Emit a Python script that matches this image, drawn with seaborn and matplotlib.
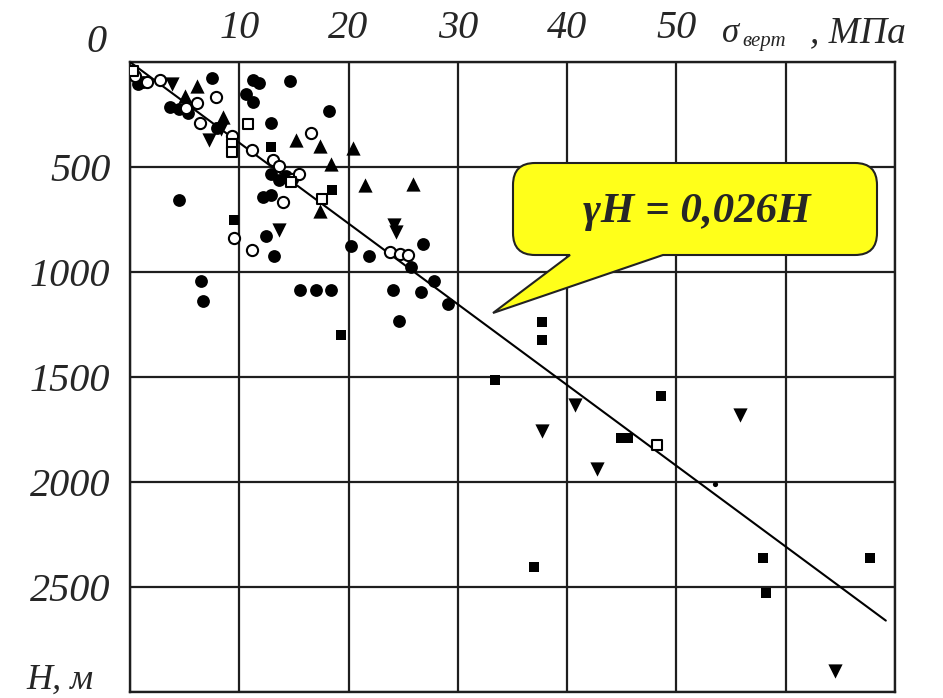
import numpy as np
import pandas as pd
import seaborn as sns
import matplotlib.pyplot as plt
from matplotlib.path import Path
from matplotlib.patches import PathPatch

# === Data (sigma_vert in MPa, depth H in m) ===
# filled circles
circ_x = [7.5, 11.3, 11.8, 14.6, 10.6, 11.3, 18.2, 12.9, 4.5, 12.4, 13.2, 20.2, 21.9,
          26.8, 25.7, 27.8, 29.1, 6.5, 6.7, 15.6, 17.0, 18.4, 24.1, 26.6, 24.6,
          12.9, 13.6, 14.3, 12.2, 12.9, 3.7, 4.5, 5.3, 8.0, 0.7, 1.2]
circ_y = [75, 85, 100, 90, 150, 190, 235, 290, 655, 830, 925, 875, 925,
          865, 975, 1045, 1150, 1045, 1140, 1085, 1085, 1085, 1085, 1095, 1235,
          535, 560, 545, 645, 635, 215, 225, 245, 312, 105, 95]

# tiny dot sitting on the line
dot_x = [53.5]
dot_y = [2010]

# filled triangles (up)
tri_up_x = [6.1, 15.2, 17.4, 20.4, 18.4, 21.5, 25.9, 17.4, 5.0, 8.5]
tri_up_y = [115, 370, 400, 410, 485, 585, 580, 710, 160, 260]

# filled triangles (down)
tri_dn_x = [3.8, 7.2, 13.6, 24.2, 24.3, 40.7, 37.7, 55.8, 42.7, 64.5, 8.3]
tri_dn_y = [105, 370, 800, 775, 810, 1632, 1755, 1680, 1940, 2900, 320]

# filled squares
sq_x = [12.9, 18.5, 9.5, 19.3, 37.7, 37.7, 33.4, 48.6, 44.9, 45.6, 37.0, 57.9, 58.2, 67.7]
sq_y = [405, 610, 750, 1300, 1240, 1325, 1515, 1590, 1790, 1790, 2405, 2360, 2530, 2360]

# open circles
ocirc_x = [0.5, 1.6, 2.7, 6.1, 7.9, 5.1, 6.4, 9.3, 11.2, 16.6, 13.1, 13.6, 14.8,
           15.5, 14.0, 9.5, 11.2, 23.8, 24.7, 25.4]
ocirc_y = [65, 95, 85, 195, 165, 220, 290, 350, 420, 340, 465, 495, 555,
           535, 665, 840, 895, 905, 915, 920]

# open squares
osq_x = [10.8, 9.3, 9.3, 17.6, 48.2, 0.3, 14.7]
osq_y = [295, 390, 427, 650, 1826, 45, 570]

# trend line gammaH = 0.026 H
coef = 0.026
line_H = np.array([0, 2660])
line_sigma = coef * line_H

x_ticks = [0, 10, 20, 30, 40, 50, 60, 70]
x_labels = ["", "10", "20", "30", "40", "50", "", ""]
y_ticks = [0, 500, 1000, 1500, 2000, 2500, 3000]
y_labels = ["", "500", "1000", "1500", "2000", "2500", ""]

sns.set_style("white")
plt.rcParams["font.family"] = ["Liberation Serif", "DejaVu Serif"]
plt.rcParams["font.style"] = "italic"

W, H = 943, 698
fig = plt.figure(figsize=(W / 100, H / 100), dpi=100)
ax = fig.add_axes([130 / W, 1 - 692 / H, (895 - 130) / W, (692 - 62) / H])

grid_col = "#1e1e1e"

sns.lineplot(x=line_sigma, y=line_H, color="black", lw=1.5, ax=ax, zorder=3)

sns.scatterplot(x=circ_x, y=circ_y, marker="o", s=85, color="black",
                edgecolor="black", linewidth=0, ax=ax, zorder=4)
sns.scatterplot(x=dot_x, y=dot_y, marker="o", s=14, color="black",
                edgecolor="black", linewidth=0, ax=ax, zorder=4)
sns.scatterplot(x=tri_up_x, y=tri_up_y, marker="^", s=105, color="black",
                edgecolor="black", linewidth=0, ax=ax, zorder=4)
sns.scatterplot(x=tri_dn_x, y=tri_dn_y, marker="v", s=105, color="black",
                edgecolor="black", linewidth=0, ax=ax, zorder=4)
sns.scatterplot(x=sq_x, y=sq_y, marker="s", s=58, color="black",
                edgecolor="black", linewidth=0, ax=ax, zorder=4)
sns.scatterplot(x=ocirc_x, y=ocirc_y, marker="o", s=65, facecolor="white",
                edgecolor="black", linewidth=1.5, ax=ax, zorder=5)
sns.scatterplot(x=osq_x, y=osq_y, marker="s", s=48, facecolor="white",
                edgecolor="black", linewidth=1.5, ax=ax, zorder=5)

ax.set_xlim(0, 70)
ax.set_ylim(3000, 0)
ax.xaxis.tick_top()
ax.set_xticks(x_ticks)
ax.set_xticklabels(x_labels, fontsize=29, fontstyle="italic")
ax.set_yticks(y_ticks)
ax.set_yticklabels(y_labels, fontsize=29, fontstyle="italic")
ax.tick_params(axis="x", length=0, pad=11)
ax.tick_params(axis="y", length=0, pad=14)
ax.grid(True, color=grid_col, lw=1.6)
ax.set_axisbelow(True)
for sp in ax.spines.values():
    sp.set_color(grid_col)
    sp.set_linewidth(1.7)
ax.set_xlabel("")
ax.set_ylabel("")

# corner zero and axis names
fig.text(97 / W, 1 - 43 / H, "0", fontsize=29, ha="center", va="center")
fig.text(60 / W, 1 - 680 / H, "H, м", fontsize=26, ha="center", va="center")
fig.text(722 / W, 1 - 42 / H, "σ", fontsize=25, ha="left", va="baseline")
fig.text(742 / W, 1 - 46 / H, "верт", fontsize=15, ha="left", va="baseline")
fig.text(810 / W, 1 - 42 / H, ", МПа", fontsize=27, ha="left", va="baseline")

# === Speech-bubble callout (pixel coords -> inches) ===
x0, y0, x1, y1, r = 513, 163, 877, 255, 22
tail_a, tail_b, tip = 570, 663, (493, 313)
verts = [(x0 + r, y0), (x1 - r, y0), (x1, y0), (x1, y0 + r), (x1, y1 - r), (x1, y1),
         (x1 - r, y1), (tail_b, y1), tip, (tail_a, y1), (x0 + r, y1), (x0, y1),
         (x0, y1 - r), (x0, y0 + r), (x0, y0), (x0 + r, y0), (x0 + r, y0)]
codes = [Path.MOVETO, Path.LINETO, Path.CURVE3, Path.CURVE3, Path.LINETO, Path.CURVE3,
         Path.CURVE3, Path.LINETO, Path.LINETO, Path.LINETO, Path.LINETO, Path.CURVE3,
         Path.CURVE3, Path.LINETO, Path.CURVE3, Path.CURVE3, Path.CLOSEPOLY]
verts_in = [(vx / 100, (H - vy) / 100) for vx, vy in verts]
bubble = PathPatch(Path(verts_in, codes), facecolor="#ffff1a", edgecolor="#222222",
                   lw=1.5, transform=fig.dpi_scale_trans, zorder=10)
fig.patches.append(bubble)
fig.text(697 / W, 1 - 212 / H, "γH = 0,026H", fontsize=31, fontweight="bold",
         ha="center", va="center", zorder=11)

fig.savefig("out.png", dpi=100, facecolor="white")
